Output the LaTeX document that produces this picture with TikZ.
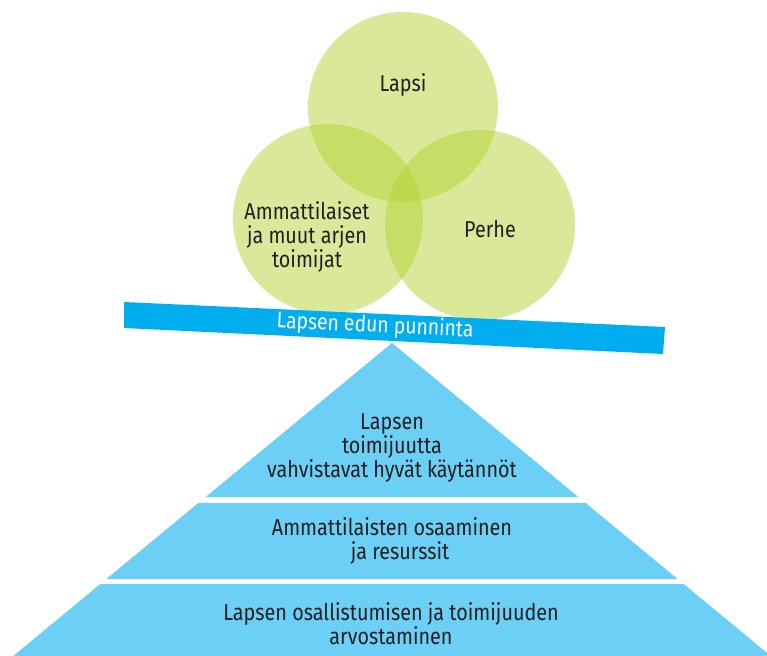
\documentclass[tikz,border=0pt]{standalone}
\usepackage{fontspec}
\setmainfont{Fira Sans}[FakeStretch=0.86]
\definecolor{venn}{RGB}{181,211,52}
\definecolor{barblue}{RGB}{0,174,239}
\definecolor{pyrblue}{RGB}{108,207,246}
\definecolor{txt}{RGB}{35,31,32}
\tikzset{
  vennc/.style={circle, minimum size=190pt, inner sep=0pt, fill=venn, fill opacity=0.5, draw=none},
  lbl/.style={text=txt, align=center, font=\fontsize{23}{24}\selectfont, inner sep=0pt},
  tier/.style={fill=pyrblue, draw=none}
}
\begin{document}
\begin{tikzpicture}[x=1pt,y=-1pt]
\useasboundingbox (0,0) rectangle (767,655);
\clip (0,0) rectangle (767,655);
% Venn circles
\node[vennc] (cl) at (403,107) {};
\node[vennc] (ca) at (328,219) {};
\node[vennc] (cp) at (480,225) {};
\node[lbl] (tl) at (403,85) {Lapsi};
\node[lbl] (ta) at (307,237) {Ammattilaiset\\ja muut arjen\\toimijat};
\node[lbl] (tp) at (490,229) {Perhe};
% balance bar
\fill[barblue] (124,302) -- (665,327) -- (663,354) -- (124,328) -- cycle;
\node[text=white, font=\fontsize{22.5}{24}\selectfont, rotate=-2.75, inner sep=0pt] (bar) at (375,326) {Lapsen edun punninta};
% pyramid
\fill[tier] (392,343) -- (578.3,497) -- (205.7,497) -- cycle;
\fill[tier] (198.4,503) -- (585.6,503) -- (677.6,579) -- (106.4,579) -- cycle;
\fill[tier] (100.4,584) -- (683.6,584) -- (775.6,660) -- (8.4,660) -- cycle;
\node[lbl] (t1) at (392,448) {Lapsen\\toimijuutta\\vahvistavat hyvät käytännöt};
\node[lbl] (t2) at (392,541) {Ammattilaisten osaaminen\\\hspace*{16pt}ja resurssit};
\node[lbl] (t3) at (391,624) {Lapsen osallistumisen ja toimijuuden\\arvostaminen};
\end{tikzpicture}
\end{document}
